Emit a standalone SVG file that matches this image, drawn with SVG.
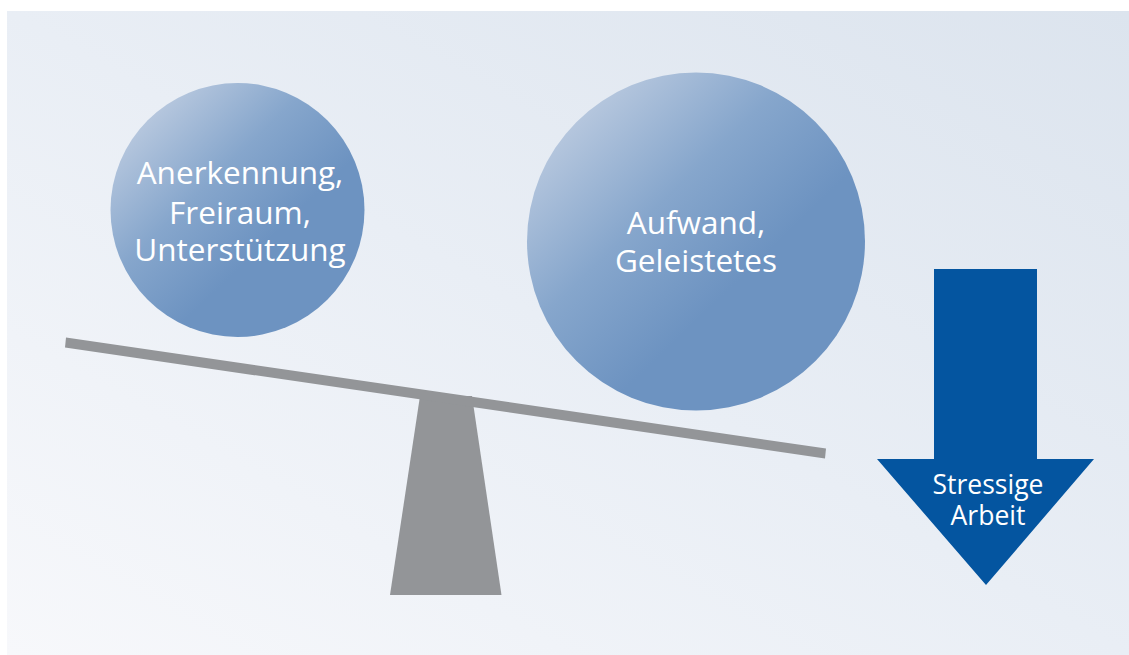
<svg xmlns="http://www.w3.org/2000/svg" width="1129" height="655" viewBox="0 0 1129 655">
<defs>
<linearGradient id="bg" x1="0" y1="1" x2="1" y2="0">
<stop offset="0" stop-color="#f7f8fb"/>
<stop offset="0.5" stop-color="#e9eef5"/>
<stop offset="1" stop-color="#dce4ee"/>
</linearGradient>
<linearGradient id="ball" x1="0.12" y1="0.1" x2="0.62" y2="0.62">
<stop offset="0" stop-color="#bccbe0"/>
<stop offset="0.55" stop-color="#86a6cc"/>
<stop offset="1" stop-color="#6d93c1"/>
</linearGradient>
<style>
.lbl{font-family:"Open Sans","Noto Sans","Liberation Sans",sans-serif;fill:#ffffff;text-anchor:middle}
.big{font-size:31.5px}
.small{font-size:26.5px}
.gray{fill:#939598}
</style>
</defs>
<rect x="7" y="11" width="1122" height="644" fill="url(#bg)"/>
<g id="fulcrum">
<polygon class="gray" points="420,396 472,396 501.5,595 390,595"/>
</g>
<g id="beam">
<polygon class="gray" points="66,337.5 826,448.5 825,458.5 65,347.5"/>
</g>
<g id="ball-left">
<circle cx="237.5" cy="210" r="127" fill="url(#ball)"/>
<text class="lbl big" x="240" y="184">Anerkennung,</text>
<text class="lbl big" x="240" y="224">Freiraum,</text>
<text class="lbl big" x="240" y="261">Unterstützung</text>
</g>
<g id="ball-right">
<circle cx="696" cy="241.5" r="169" fill="url(#ball)"/>
<text class="lbl big" x="696" y="234">Aufwand,</text>
<text class="lbl big" x="696" y="272">Geleistetes</text>
</g>
<g id="arrow">
<polygon fill="#0455a0" points="934,269 1037,269 1037,459 1094,459 986,585 877,459 934,459"/>
<text class="lbl small" x="988" y="494">Stressige</text>
<text class="lbl small" x="988" y="525">Arbeit</text>
</g>
</svg>
